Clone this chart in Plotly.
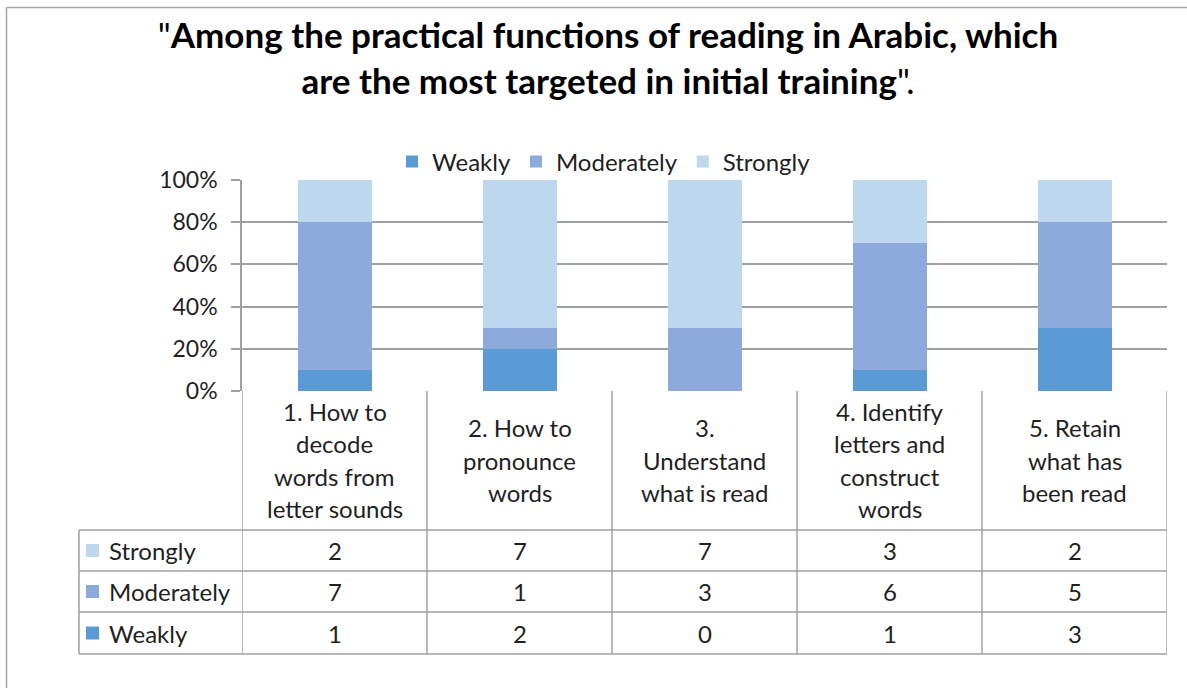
import plotly.graph_objects as go

# ---- data ----
categories = [
    "1. How to<br>decode<br>words from<br>letter sounds",
    "2. How to<br>pronounce<br>words",
    "3.<br>Understand<br>what is read",
    "4. Identify<br>letters and<br>construct<br>words",
    "5. Retain<br>what has<br>been read",
]
weakly = [1, 2, 0, 1, 3]
moderately = [7, 1, 3, 6, 5]
strongly = [2, 7, 7, 3, 2]
series_names = ["Weakly", "Moderately", "Strongly"]
series_values = [weakly, moderately, strongly]
colors = ["#5B9BD5", "#8EA9DB", "#BDD7EE"]
title_text = "\"<b>Among the practical functions of reading in Arabic, which<br>are the most targeted in initial training</b>\"."

# ---- layout geometry (pixels) ----
W, H = 1187, 688
PX0, PX1, PY0, PY1 = 242, 1167, 180, 391
PW, PH = PX1 - PX0, PY1 - PY0
FONT = "Lato"
GRID = "#A0A0A0"
TXT = "#1F1F1F"
FS = 24


def xp(px):
    return (px - PX0) / PW


def yp(py):
    return (PY1 - py) / PH


xs = list(range(len(categories)))
fig = go.Figure()
for name, vals, col in zip(series_names, series_values, colors):
    fig.add_trace(go.Bar(x=xs, y=vals, name=name, marker=dict(color=col, line=dict(width=0))))

shapes = []
annotations = []

# table horizontal lines
row_lines = [530, 571, 612, 654]
for ry in row_lines:
    shapes.append(dict(type="line", xref="paper", yref="paper", x0=xp(79), x1=1.0,
                       y0=yp(ry), y1=yp(ry), line=dict(color=GRID, width=1.5)))
shapes.append(dict(type="line", xref="paper", yref="paper", x0=xp(79), x1=xp(79),
                   y0=yp(530), y1=yp(654), line=dict(color=GRID, width=1.5)))
for i in range(len(categories) + 1):
    shapes.append(dict(type="line", xref="x", yref="paper", x0=i - 0.5, x1=i - 0.5,
                       y0=yp(391), y1=yp(654), line=dict(color=GRID, width=1.5)))

# header text (category labels)
LS = 32.6
for i, cat in enumerate(categories):
    lines = cat.split("<br>")
    n = len(lines)
    for k, ln in enumerate(lines):
        cy = 460 + (k - (n - 1) / 2) * LS
        annotations.append(dict(x=i, xref="x", y=yp(cy), yref="paper", text=ln,
                                showarrow=False, xanchor="center", yanchor="middle",
                                font=dict(family=FONT, size=FS, color=TXT)))

# table rows: Strongly, Moderately, Weakly
row_centers = [550.5, 591.5, 633]
order = [2, 1, 0]
for rc, si in zip(row_centers, order):
    shapes.append(dict(type="rect", xref="paper", yref="paper",
                       x0=xp(86), x1=xp(99), y0=yp(rc - 6.5), y1=yp(rc + 6.5),
                       fillcolor=colors[si], line=dict(width=0)))
    annotations.append(dict(x=xp(107), xref="paper", y=yp(rc), yref="paper",
                            text=series_names[si], showarrow=False, xanchor="left",
                            yanchor="middle", font=dict(family=FONT, size=FS, color=TXT)))
    for i, v in enumerate(series_values[si]):
        annotations.append(dict(x=i, xref="x", y=yp(rc), yref="paper", text=str(v),
                                showarrow=False, xanchor="center", yanchor="middle",
                                font=dict(family=FONT, size=FS, color=TXT)))

# chart area border (top and left)
shapes.append(dict(type="line", xref="paper", yref="paper", x0=xp(6.5), x1=xp(W + 5),
                   y0=yp(7.5), y1=yp(7.5), line=dict(color="#A6A6A6", width=1.5)))
shapes.append(dict(type="line", xref="paper", yref="paper", x0=xp(6.5), x1=xp(6.5),
                   y0=yp(7.5), y1=yp(H + 5), line=dict(color="#A6A6A6", width=1.5)))

fig.update_layout(
    width=W, height=H,
    margin=dict(l=PX0, r=W - PX1, t=PY0, b=H - PY1),
    paper_bgcolor="white", plot_bgcolor="white",
    barmode="stack", barnorm="fraction", bargap=0.6,
    font=dict(family=FONT, size=FS, color=TXT),
    title=dict(text=title_text, x=608 / W, xanchor="center", y=1 - 48 / H,
               yanchor="middle", yref="container",
               font=dict(family=FONT, size=35, color="#000000")),
    legend=dict(orientation="h", x=xp(604), xanchor="center", y=yp(162), yanchor="middle",
                font=dict(family=FONT, size=FS, color=TXT), traceorder="normal",
                itemwidth=30, bgcolor="rgba(0,0,0,0)"),
    xaxis=dict(range=[-0.5, len(categories) - 0.5], showticklabels=False,
               showgrid=False, zeroline=False, showline=False, fixedrange=True),
    yaxis=dict(range=[0, 1], tickformat=".0%", dtick=0.2, showgrid=True,
               gridcolor=GRID, gridwidth=1.5, zeroline=False, showline=True,
               linecolor=GRID, linewidth=1.5, ticks="outside", ticklen=9,
               tickcolor=GRID, tickwidth=1.5, ticklabelstandoff=9,
               tickfont=dict(family=FONT, size=23, color=TXT)),
    shapes=shapes,
    annotations=annotations,
    showlegend=True,
)

fig.write_html("out.html", config={"displayModeBar": False},
               post_script="document.body.style.margin='0';")
